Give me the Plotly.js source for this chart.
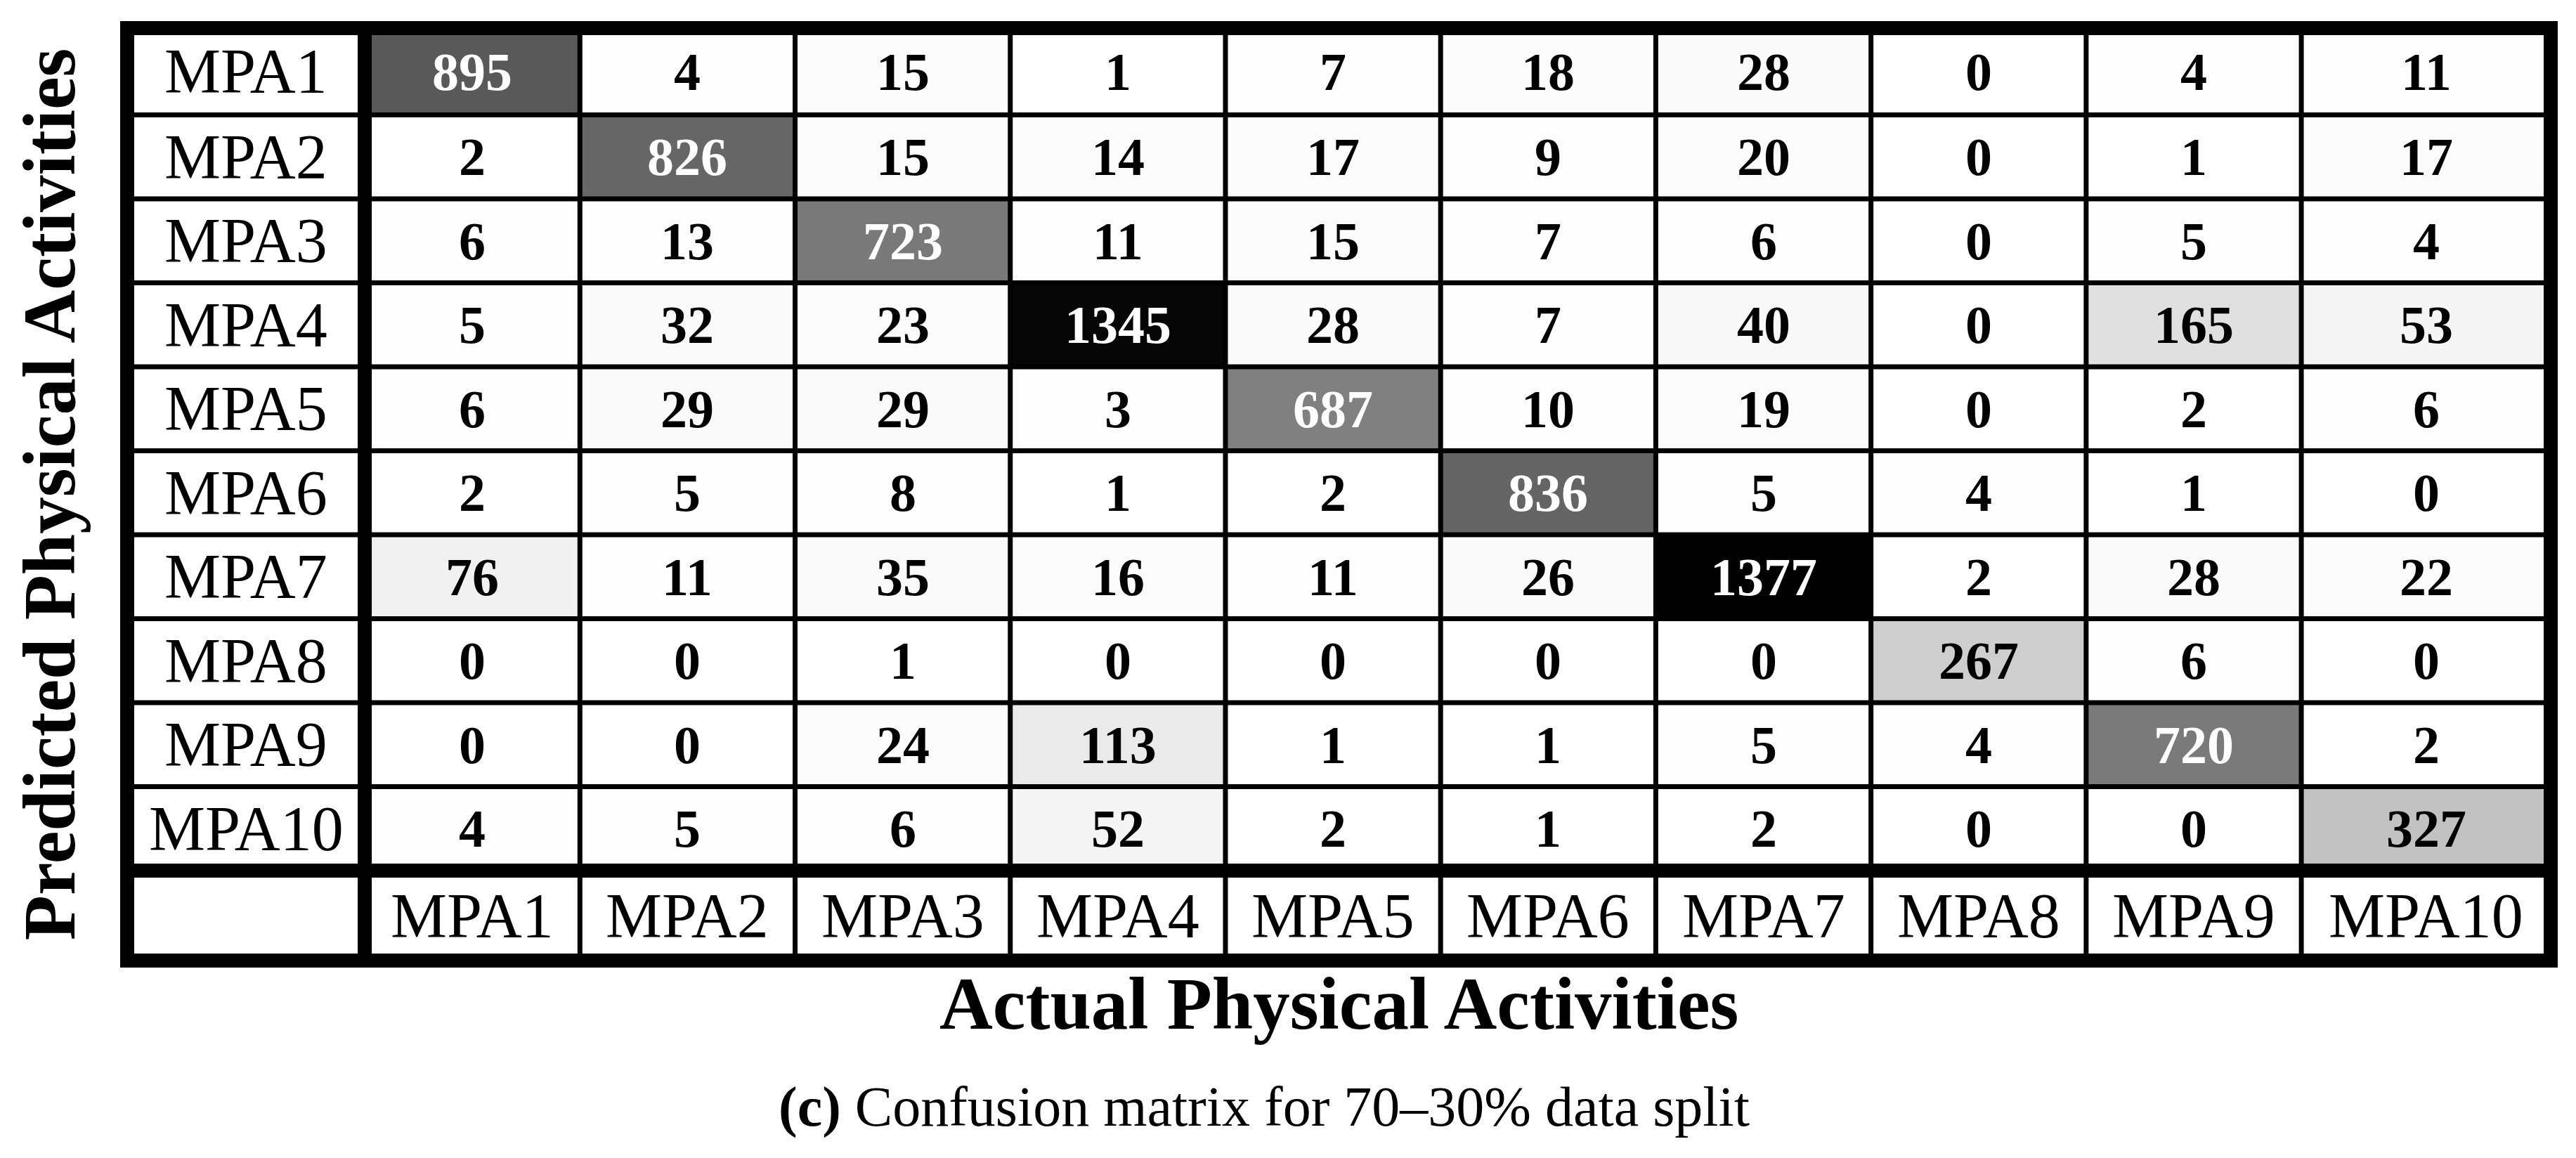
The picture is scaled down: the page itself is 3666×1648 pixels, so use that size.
<!DOCTYPE html>
<html>
<head>
<meta charset="utf-8">
<script src="https://cdn.plot.ly/plotly-3.0.1.min.js"></script>
<style>
  html, body { margin: 0; padding: 0; background: #ffffff; }
  #chart { width: 3666px; height: 1648px; }
</style>
</head>
<body>
<div id="chart"></div>
<script>
// Confusion matrix, 70–30% split: rows = predicted, columns = actual.
const classes = ["MPA1", "MPA2", "MPA3", "MPA4", "MPA5", "MPA6", "MPA7", "MPA8", "MPA9", "MPA10"];

const rowMPA1 = [895, 4, 15, 1, 7, 18, 28, 0, 4, 11];
const rowMPA2 = [2, 826, 15, 14, 17, 9, 20, 0, 1, 17];
const rowMPA3 = [6, 13, 723, 11, 15, 7, 6, 0, 5, 4];
const rowMPA4 = [5, 32, 23, 1345, 28, 7, 40, 0, 165, 53];
const rowMPA5 = [6, 29, 29, 3, 687, 10, 19, 0, 2, 6];
const rowMPA6 = [2, 5, 8, 1, 2, 836, 5, 4, 1, 0];
const rowMPA7 = [76, 11, 35, 16, 11, 26, 1377, 2, 28, 22];
const rowMPA8 = [0, 0, 1, 0, 0, 0, 0, 267, 6, 0];
const rowMPA9 = [0, 0, 24, 113, 1, 1, 5, 4, 720, 2];
const rowMPA10 = [4, 5, 6, 52, 2, 1, 2, 0, 0, 327];

const matrix = [rowMPA1, rowMPA2, rowMPA3, rowMPA4, rowMPA5,
                rowMPA6, rowMPA7, rowMPA8, rowMPA9, rowMPA10];

const xTitle = "Actual Physical Activities";
const yTitle = "Predicted Physical Activities";
const caption = "<b>(c)</b> Confusion matrix for 70–30% data split";

const SERIF = "Liberation Serif, Times New Roman, serif";
const n = classes.length;
const zMax = Math.max(...matrix.flat());

// Table extents in cell units: label column / last column and first row / label row
// are a bit wider than the regular cells in the original.
const xRange = [-1.604, n - 0.341];
const yRange = [n + 0.571, -0.533];
// brick edges: regular cells are unit wide, the outermost ones stretch to the frame
const colEdges = [-0.5, ...classes.map((_, j) => j + 0.5)];
colEdges[n] = xRange[1];
const rowEdges = [yRange[1], ...classes.map((_, i) => i + 0.5)];
const mid = (e, k) => (e[k] + e[k + 1]) / 2;

const heat = {
  type: "heatmap",
  z: matrix,
  x: colEdges,
  y: rowEdges,
  zmin: 0,
  zmax: zMax,
  colorscale: [[0, "#ffffff"], [1, "#000000"]],
  showscale: false,
  hoverinfo: "skip",
};

const annotations = [];
// cell counts
matrix.forEach((row, i) => {
  row.forEach((v, j) => {
    annotations.push({
      x: mid(colEdges, j), y: mid(rowEdges, i), xref: "x", yref: "y",
      text: `<b>${v}</b>`, showarrow: false,
      font: { family: SERIF, size: 76, color: v > zMax * 0.4 ? "#ffffff" : "#000000" },
    });
  });
});
// row labels (left column) and column labels (bottom row)
const labelX = (xRange[0] + colEdges[0]) / 2;
const labelY = (rowEdges[n] + yRange[0]) / 2;
classes.forEach((c, k) => {
  annotations.push({ x: labelX, y: mid(rowEdges, k), xref: "x", yref: "y", text: c, showarrow: false,
                     font: { family: SERIF, size: 90, color: "#000000" } });
  annotations.push({ x: mid(colEdges, k), y: labelY, xref: "x", yref: "y", text: c, showarrow: false,
                     font: { family: SERIF, size: 90, color: "#000000" } });
});
// axis titles + caption
annotations.push({ xref: "paper", yref: "paper", x: 0.5, y: -0.046, xanchor: "center", yanchor: "middle",
                   text: `<b>${xTitle}</b>`, showarrow: false,
                   font: { family: SERIF, size: 105, color: "#000000" } });
annotations.push({ xref: "paper", yref: "paper", x: -0.032, y: 0.5, xanchor: "center", yanchor: "middle",
                   textangle: -90, text: `<b>${yTitle}</b>`, showarrow: false,
                   font: { family: SERIF, size: 105, color: "#000000" } });
annotations.push({ xref: "paper", yref: "paper", x: 0.469, y: -0.157, xanchor: "center", yanchor: "middle",
                   text: caption, showarrow: false,
                   font: { family: SERIF, size: 80, color: "#000000" } });

// table rules: thin between cells, thick around label column/row and outer frame
const shapes = [];
for (let k = 0; k < n - 1; k++) {
  shapes.push({ type: "line", xref: "x", yref: "paper", x0: colEdges[k + 1], x1: colEdges[k + 1], y0: 0, y1: 1,
                line: { color: "#000000", width: 7 } });
  shapes.push({ type: "line", xref: "paper", yref: "y", x0: 0, x1: 1, y0: rowEdges[k + 1], y1: rowEdges[k + 1],
                line: { color: "#000000", width: 7 } });
}
shapes.push({ type: "line", xref: "x", yref: "paper", x0: colEdges[0], x1: colEdges[0], y0: 0, y1: 1,
              line: { color: "#000000", width: 20 } });
shapes.push({ type: "line", xref: "paper", yref: "y", x0: 0, x1: 1, y0: rowEdges[n], y1: rowEdges[n],
              line: { color: "#000000", width: 20 } });
shapes.push({ type: "rect", xref: "paper", yref: "paper", x0: 0, x1: 1, y0: 0, y1: 1,
              line: { color: "#000000", width: 20 } });

const hidden = { showgrid: false, zeroline: false, showticklabels: false, ticks: "", fixedrange: true };

const layout = {
  width: 3666,
  height: 1648,
  paper_bgcolor: "#ffffff",
  plot_bgcolor: "#ffffff",
  margin: { l: 181, r: 36, t: 40, b: 281 },
  xaxis: { ...hidden, range: xRange },
  yaxis: { ...hidden, range: yRange },
  shapes,
  annotations,
  showlegend: false,
};

Plotly.newPlot("chart", [heat], layout, { displayModeBar: false, staticPlot: true });
</script>
</body>
</html>
